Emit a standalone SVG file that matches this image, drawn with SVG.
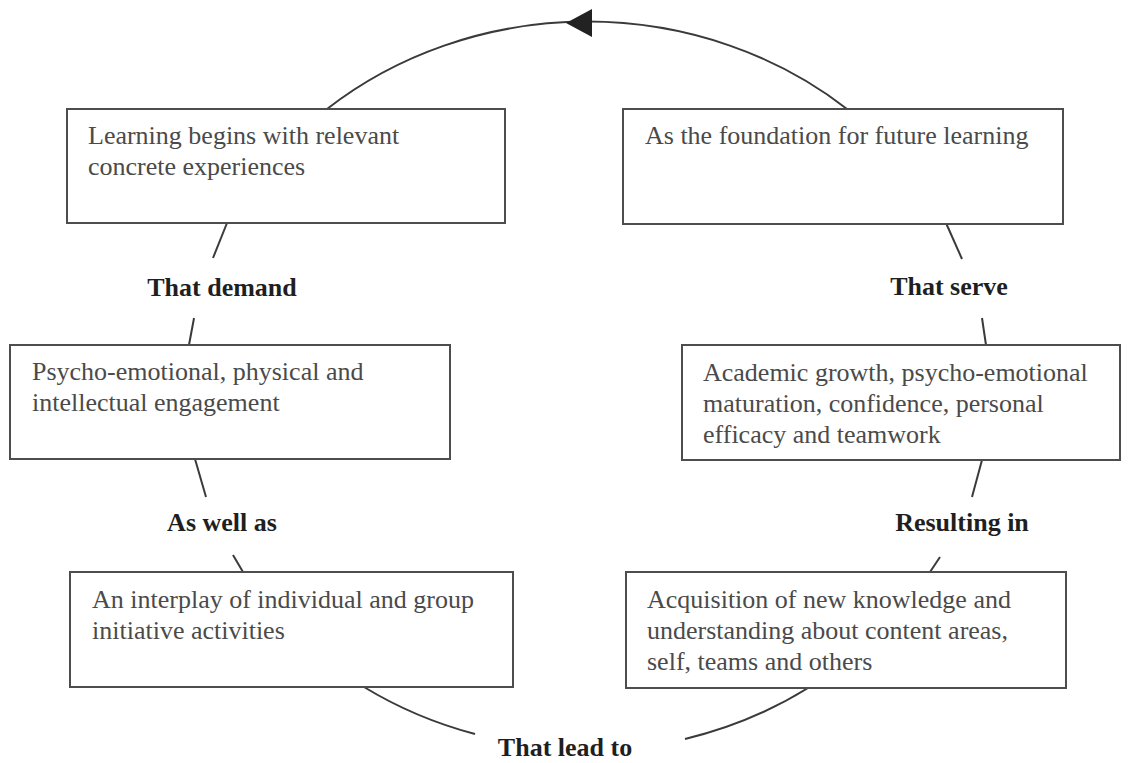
<svg xmlns="http://www.w3.org/2000/svg" width="1130" height="763" viewBox="0 0 1130 763">
  <style>
    .box { fill: #ffffff; stroke: #4d4d4d; stroke-width: 2; }
    .txt { font-family: "Liberation Serif", "Times New Roman", serif; font-size: 26px; fill: #4a4a4a; }
    .lbl { font-family: "Liberation Serif", "Times New Roman", serif; font-size: 26px; font-weight: bold; fill: #1f1f1f; text-anchor: middle; }
    .link { fill: none; stroke: #3a3a3a; stroke-width: 2; }
    .head { fill: #222222; }
  </style>
  <rect width="1130" height="763" fill="#ffffff"/>

  <!-- cycle connectors: pieces of one ellipse, centre (587,386), radii 400 x 364 -->
  <g id="connectors">
    <path class="link" d="M327,109 A400,364 0 0 1 847,109"/>
    <polygon class="head" points="566,23 592,9 592,37"/>
    <path class="link" d="M227,223 L213,258"/>
    <path class="link" d="M194,318 L189,345"/>
    <path class="link" d="M195,459 L206,497"/>
    <path class="link" d="M233,555 L243,572"/>
    <path class="link" d="M364,687 A400,364 0 0 0 475,734"/>
    <path class="link" d="M685,739 A400,364 0 0 0 808,688"/>
    <path class="link" d="M930,572 L940,557"/>
    <path class="link" d="M972,497 L982,460"/>
    <path class="link" d="M982,318 L986,345"/>
    <path class="link" d="M946,223 L962,259"/>
  </g>

  <!-- labels on the cycle -->
  <g id="labels">
    <text class="lbl" x="222" y="296">That demand</text>
    <text class="lbl" x="222" y="531">As well as</text>
    <text class="lbl" x="565" y="756">That lead to</text>
    <text class="lbl" x="962" y="531">Resulting in</text>
    <text class="lbl" x="949" y="295">That serve</text>
  </g>

  <g id="node-experiences">
    <rect class="box" x="67" y="109" width="438" height="114"/>
    <text class="txt" x="88" y="144">Learning begins with relevant</text>
    <text class="txt" x="88" y="175">concrete experiences</text>
  </g>

  <g id="node-foundation">
    <rect class="box" x="623" y="109" width="440" height="115"/>
    <text class="txt" x="645" y="144">As the foundation for future learning</text>
  </g>

  <g id="node-engagement">
    <rect class="box" x="10" y="345" width="440" height="114"/>
    <text class="txt" x="32" y="380">Psycho-emotional, physical and</text>
    <text class="txt" x="32" y="411">intellectual engagement</text>
  </g>

  <g id="node-growth">
    <rect class="box" x="682" y="345" width="438" height="115"/>
    <text class="txt" x="703" y="381">Academic growth, psycho-emotional</text>
    <text class="txt" x="703" y="412">maturation, confidence, personal</text>
    <text class="txt" x="703" y="443">efficacy and teamwork</text>
  </g>

  <g id="node-interplay">
    <rect class="box" x="70" y="572" width="443" height="115"/>
    <text class="txt" x="92" y="608">An interplay of individual and group</text>
    <text class="txt" x="92" y="639">initiative activities</text>
  </g>

  <g id="node-acquisition">
    <rect class="box" x="626" y="572" width="440" height="116"/>
    <text class="txt" x="647" y="608">Acquisition of new knowledge and</text>
    <text class="txt" x="647" y="639">understanding about content areas,</text>
    <text class="txt" x="647" y="670">self, teams and others</text>
  </g>
</svg>
